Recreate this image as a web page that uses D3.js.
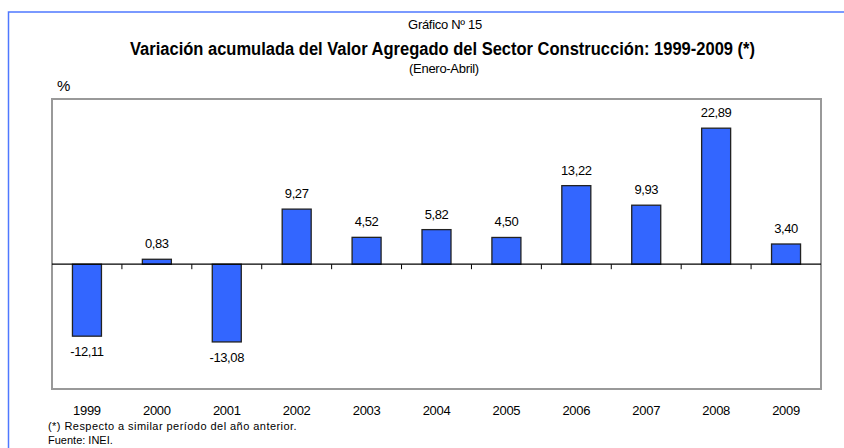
<!DOCTYPE html>
<html>
<head>
<meta charset="utf-8">
<script src="https://cdn.jsdelivr.net/npm/d3@7"></script>
<style>
  body { margin: 0; background: #fff; }
  svg { display: block; font-family: "Liberation Sans", Arial, sans-serif; }
</style>
</head>
<body>
<script>
"use strict";
// chart data
const years = ["1999", "2000", "2001", "2002", "2003", "2004", "2005", "2006", "2007", "2008", "2009"]
const values = [-12.11, 0.83, -13.08, 9.27, 4.52, 5.82, 4.50, 13.22, 9.93, 22.89, 3.40]

const measurements = { width: 844, height: 448 }
const plotBox = { left: 52, right: 821, top: 99, bottom: 389 }

const svg = d3.select("body").append("svg")
    .attr("width", measurements.width)
    .attr("height", measurements.height)

// outer blue frame
svg.append("rect")
    .attr("x", 8.5).attr("y", 12)
    .attr("width", 860).attr("height", 460)
    .attr("fill", "none")
    .attr("stroke", "#4f78ff")
    .attr("stroke-width", 1.5)

// titles
svg.append("text")
    .attr("x", 445).attr("y", 29)
    .attr("text-anchor", "middle")
    .style("font-size", "13px")
    .style("letter-spacing", "-0.3px")
    .text("Gráfico Nº 15")
svg.append("text")
    .attr("x", 130).attr("y", 55)
    .attr("textLength", 625)
    .attr("lengthAdjust", "spacingAndGlyphs")
    .style("font-size", "18px")
    .style("font-weight", "bold")
    .text("Variación acumulada del Valor Agregado del Sector Construcción: 1999-2009 (*)")
svg.append("text")
    .attr("x", 444).attr("y", 73)
    .attr("text-anchor", "middle")
    .style("font-size", "13px")
    .style("letter-spacing", "-0.3px")
    .text("(Enero-Abril)")
svg.append("text")
    .attr("x", 57).attr("y", 91)
    .style("font-size", "15px")
    .text("%")

// scales
const x = d3.scaleBand()
    .domain(years)
    .range([plotBox.left, plotBox.right])
const y = d3.scaleLinear()
    .domain([-21, 27.8])
    .range([plotBox.bottom, plotBox.top])

// plot frame
svg.append("rect")
    .attr("x", plotBox.left).attr("y", plotBox.top)
    .attr("width", plotBox.right - plotBox.left)
    .attr("height", plotBox.bottom - plotBox.top)
    .attr("fill", "#fff")
    .attr("stroke", "#999")
    .attr("stroke-width", 2)

// bars
const barW = 29
svg.selectAll(".bar")
    .data(values)
    .enter()
    .append("rect")
        .attr("class", "bar")
        .attr("x", (d, i) => x(years[i]) + x.bandwidth() / 2 - barW / 2)
        .attr("y", d => y(Math.max(0, d)))
        .attr("width", barW)
        .attr("height", d => Math.abs(y(d) - y(0)))
        .attr("fill", "#3366ff")
        .attr("stroke", "#222")
        .attr("stroke-width", 1.3)

// zero axis with ticks at category boundaries
const zeroY = y(0)
svg.append("line")
    .attr("x1", plotBox.left).attr("x2", plotBox.right)
    .attr("y1", zeroY).attr("y2", zeroY)
    .attr("stroke", "#000")
    .attr("stroke-width", 1.2)
svg.selectAll(".tick-mark")
    .data(years.slice(1))
    .enter()
    .append("line")
        .attr("x1", d => x(d)).attr("x2", d => x(d))
        .attr("y1", zeroY).attr("y2", zeroY + 5)
        .attr("stroke", "#000")

// value labels
const fmt = d => d.toFixed(2).replace(".", ",")
svg.selectAll(".val")
    .data(values)
    .enter()
    .append("text")
        .attr("x", (d, i) => x(years[i]) + x.bandwidth() / 2)
        .attr("y", d => d >= 0 ? y(d) - 11 : y(d) + 20)
        .attr("text-anchor", "middle")
        .style("font-size", "13px")
        .style("letter-spacing", "-0.4px")
        .text(fmt)

// category labels
svg.selectAll(".year")
    .data(years)
    .enter()
    .append("text")
        .attr("x", d => x(d) + x.bandwidth() / 2)
        .attr("y", 415)
        .attr("text-anchor", "middle")
        .style("font-size", "13px")
        .style("letter-spacing", "-0.3px")
        .text(d => d)

// footnotes
svg.append("text")
    .attr("x", 48).attr("y", 430)
    .style("font-size", "11px")
    .style("letter-spacing", "0.45px")
    .text("(*) Respecto a similar período del año anterior.")
svg.append("text")
    .attr("x", 48).attr("y", 444)
    .style("font-size", "11px")
    .text("Fuente: INEI.")
</script>
</body>
</html>
